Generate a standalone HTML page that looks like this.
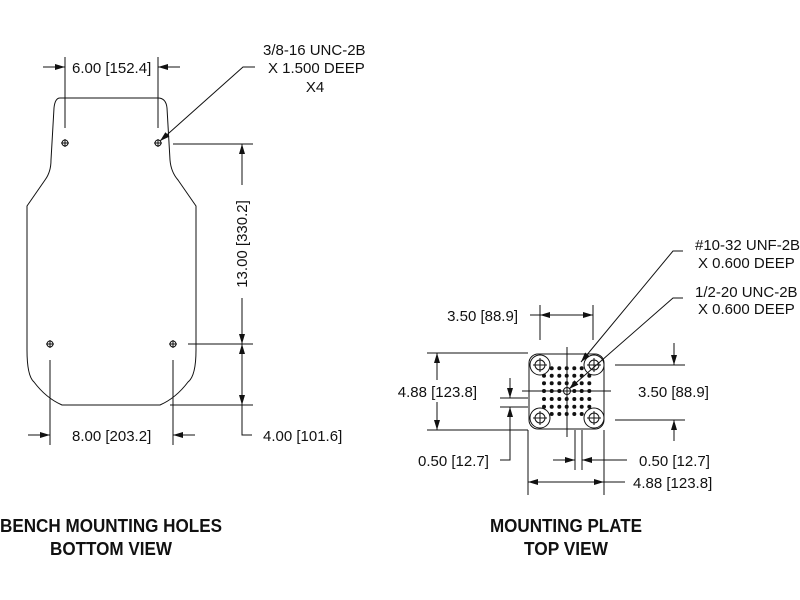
<!DOCTYPE html>
<html><head><style>
html,body{margin:0;padding:0;background:#fff;}
svg{display:block;}
text{font-family:"Liberation Sans",sans-serif;fill:#111;}
</style></head><body>
<svg width="800" height="600" viewBox="0 0 800 600" xmlns="http://www.w3.org/2000/svg">
<defs>
<marker id="a" viewBox="0 0 10 6" refX="10" refY="3" markerWidth="10" markerHeight="6" markerUnits="userSpaceOnUse" orient="auto"><path d="M0,0 L10,3 L0,6 z" fill="#111"/></marker>
</defs>
<g stroke="#111" stroke-width="1" fill="none">
<path d="M60,98 L158,98 Q166,98 167,108 L170,160 Q171,172 178,180 L196,206 L196,350 Q196,376 188,382 Q176,398 160,405 L62,405 Q46,398 34,382 Q27,376 27,350 L27,206 L45,180 Q51,172 51,160 L54,108 Q55,98 60,98 Z"/>
<g>
<circle cx="65" cy="143" r="3"/><path d="M61,143h8M65,139v8"/>
<circle cx="158" cy="143" r="3"/><path d="M154,143h8M158,139v8"/>
<circle cx="50" cy="344" r="3"/><path d="M46,344h8M50,340v8"/>
<circle cx="173" cy="344" r="3"/><path d="M169,344h8M173,340v8"/>
</g>
<path d="M65,57V128M158,57V128"/>
<path d="M43,67H65" marker-end="url(#a)"/><path d="M180,67H158" marker-end="url(#a)"/>
<path d="M255,67H243L160,141" marker-end="url(#a)"/>
<path d="M173,144H253M188,344H253M170,405H253"/>
<path d="M242,185V144" marker-end="url(#a)"/>
<path d="M242,298V344" marker-end="url(#a)"/>
<path d="M242,372V344" marker-end="url(#a)"/>
<path d="M242,372V405" marker-end="url(#a)"/>
<path d="M242,405V435H252"/>
<path d="M50,360V445M173,360V445"/>
<path d="M28,435H50" marker-end="url(#a)"/><path d="M195,435H173" marker-end="url(#a)"/>

<rect x="529" y="354" width="75" height="75" rx="9"/>
<g>
<circle cx="540" cy="365" r="10"/><circle cx="540" cy="365" r="5"/><path d="M533,365h14M540,358v14"/>
<circle cx="594" cy="365" r="10"/><circle cx="594" cy="365" r="5"/><path d="M587,365h14M594,358v14"/>
<circle cx="540" cy="418" r="10"/><circle cx="540" cy="418" r="5"/><path d="M533,418h14M540,411v14"/>
<circle cx="594" cy="418" r="10"/><circle cx="594" cy="418" r="5"/><path d="M587,418h14M594,411v14"/>
</g>
<circle cx="567" cy="391" r="3.5"/>
<path d="M567,347V437M522,391H611"/>
<path d="M540,305V340M593,305V340"/>
<path d="M567,315H540" marker-end="url(#a)"/><path d="M567,315H593" marker-end="url(#a)"/><path d="M530,315H540"/>
<path d="M427,353H528M427,430H528"/>
<path d="M437,380V353" marker-end="url(#a)"/><path d="M437,402V430" marker-end="url(#a)"/>
<path d="M615,365H685M615,420H685"/>
<path d="M674,343V365" marker-end="url(#a)"/><path d="M674,441V420" marker-end="url(#a)"/>
<path d="M500,398H528M500,407H528"/>
<path d="M510,378V398" marker-end="url(#a)"/><path d="M510,440V407" marker-end="url(#a)"/><path d="M510,440V460H500"/>
<path d="M575,430V470M582,430V470"/>
<path d="M553,460H575" marker-end="url(#a)"/><path d="M604,460H582" marker-end="url(#a)"/><path d="M604,460H627"/>
<path d="M528,430V495M604,430V495"/>
<path d="M566,482H528" marker-end="url(#a)"/><path d="M566,482H604" marker-end="url(#a)"/><path d="M604,482H625"/>
<path d="M683,251H673L581,362" marker-end="url(#a)"/>
<path d="M683,298H673L569,389" marker-end="url(#a)"/>
</g>
<g fill="#111">
<circle cx="551.7" cy="368.3" r="2"/><circle cx="559.3" cy="368.3" r="2"/><circle cx="566.7" cy="368.3" r="2"/><circle cx="574.3" cy="368.3" r="2"/><circle cx="581.7" cy="368.3" r="2"/>
<circle cx="544" cy="375.7" r="2"/><circle cx="551.7" cy="375.7" r="2"/><circle cx="559.3" cy="375.7" r="2"/><circle cx="566.7" cy="375.7" r="2"/><circle cx="574.3" cy="375.7" r="2"/><circle cx="581.7" cy="375.7" r="2"/><circle cx="589.3" cy="375.7" r="2"/>
<circle cx="544" cy="383.3" r="2"/><circle cx="551.7" cy="383.3" r="2"/><circle cx="559.3" cy="383.3" r="2"/><circle cx="566.7" cy="383.3" r="2"/><circle cx="574.3" cy="383.3" r="2"/><circle cx="581.7" cy="383.3" r="2"/><circle cx="589.3" cy="383.3" r="2"/>
<circle cx="544" cy="391" r="2"/><circle cx="551.7" cy="391" r="2"/><circle cx="559.3" cy="391" r="2"/><circle cx="574.3" cy="391" r="2"/><circle cx="581.7" cy="391" r="2"/><circle cx="589.3" cy="391" r="2"/>
<circle cx="544" cy="399" r="2"/><circle cx="551.7" cy="399" r="2"/><circle cx="559.3" cy="399" r="2"/><circle cx="566.7" cy="399" r="2"/><circle cx="574.3" cy="399" r="2"/><circle cx="581.7" cy="399" r="2"/><circle cx="589.3" cy="399" r="2"/>
<circle cx="544" cy="406.7" r="2"/><circle cx="551.7" cy="406.7" r="2"/><circle cx="559.3" cy="406.7" r="2"/><circle cx="566.7" cy="406.7" r="2"/><circle cx="574.3" cy="406.7" r="2"/><circle cx="581.7" cy="406.7" r="2"/><circle cx="589.3" cy="406.7" r="2"/>
<circle cx="551.7" cy="414" r="2"/><circle cx="559.3" cy="414" r="2"/><circle cx="566.7" cy="414" r="2"/><circle cx="574.3" cy="414" r="2"/><circle cx="581.7" cy="414" r="2"/>
</g>
<g font-size="15">
<text x="72" y="73">6.00 [152.4]</text>
<text x="263" y="55">3/8-16 UNC-2B</text>
<text x="268" y="73">X 1.500 DEEP</text>
<text x="315" y="92" text-anchor="middle">X4</text>
<text transform="translate(247,244) rotate(-90)" text-anchor="middle">13.00 [330.2]</text>
<text x="263" y="441">4.00 [101.6]</text>
<text x="72" y="441">8.00 [203.2]</text>
<text x="695" y="250">#10-32 UNF-2B</text>
<text x="698" y="268">X 0.600 DEEP</text>
<text x="695" y="297">1/2-20 UNC-2B</text>
<text x="698" y="314">X 0.600 DEEP</text>
<text x="518" y="321" text-anchor="end">3.50 [88.9]</text>
<text x="477" y="397" text-anchor="end">4.88 [123.8]</text>
<text x="638" y="397">3.50 [88.9]</text>
<text x="418" y="466">0.50 [12.7]</text>
<text x="639" y="466">0.50 [12.7]</text>
<text x="633" y="488">4.88 [123.8]</text>
</g>
<g font-size="18" font-weight="bold" text-anchor="middle">
<text x="111" y="532" textLength="222" lengthAdjust="spacingAndGlyphs">BENCH MOUNTING HOLES</text>
<text x="111" y="555" textLength="122" lengthAdjust="spacingAndGlyphs">BOTTOM VIEW</text>
<text x="566" y="532" textLength="152" lengthAdjust="spacingAndGlyphs">MOUNTING PLATE</text>
<text x="566" y="555" textLength="84" lengthAdjust="spacingAndGlyphs">TOP VIEW</text>
</g>
</svg>
</body></html>
